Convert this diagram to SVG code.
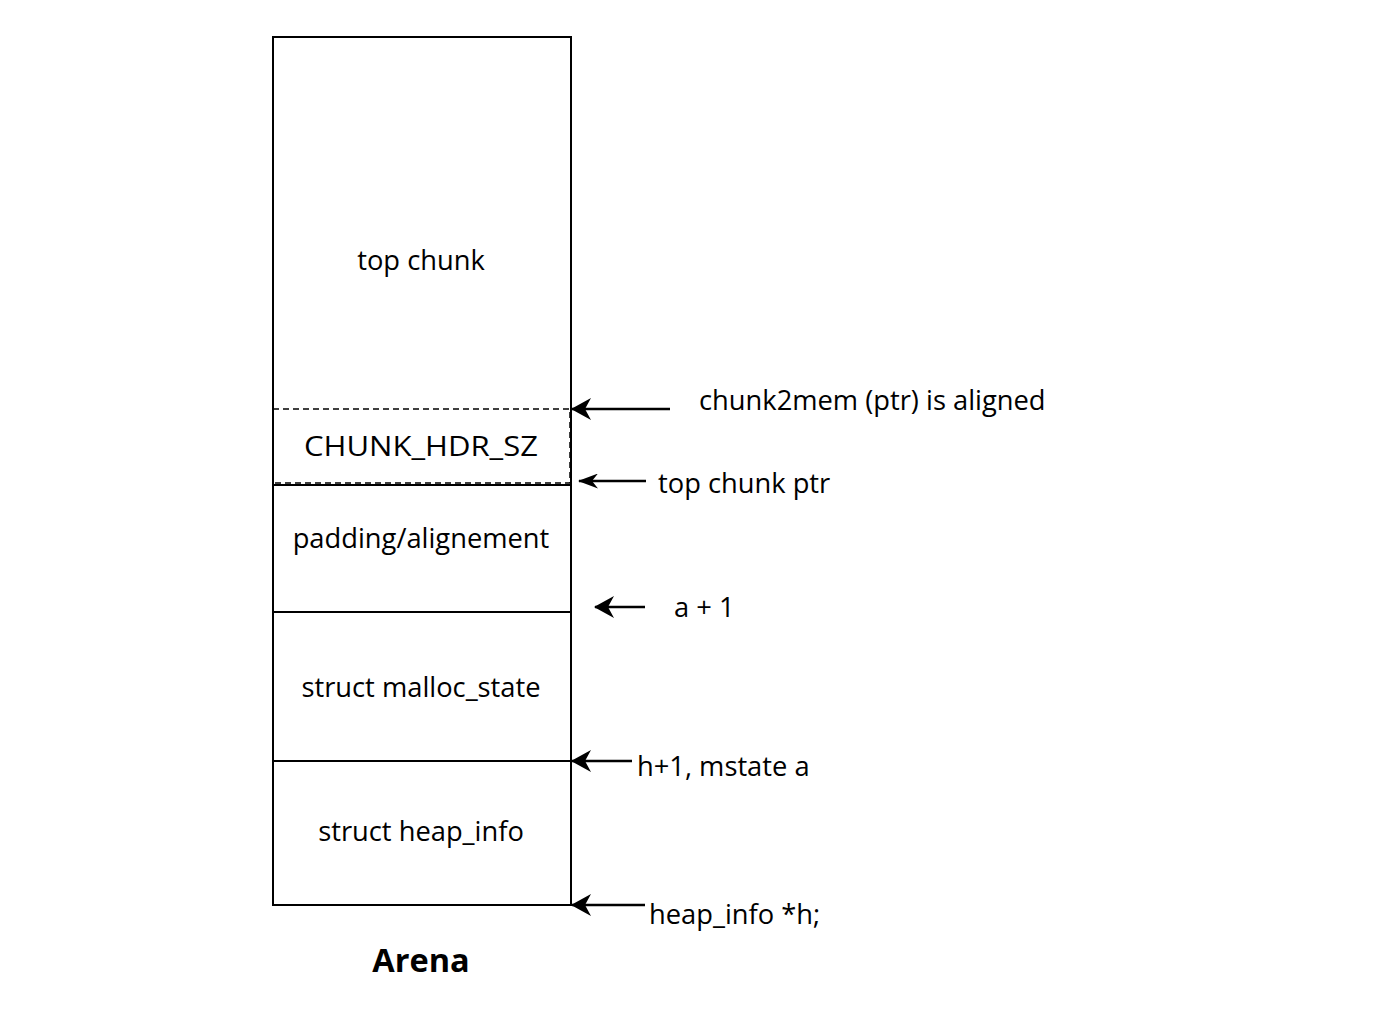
<svg xmlns="http://www.w3.org/2000/svg" width="1394" height="1032" viewBox="0 0 1394 1032">
<style>
text{font-family:"Open Sans","Noto Sans","DejaVu Sans",sans-serif;font-size:27.3px;fill:#000}
.c{text-anchor:middle}
.b{font-weight:bold;font-size:32.5px}
.box{fill:none;stroke:#000;stroke-width:2}
.dash{fill:none;stroke:#000;stroke-width:1.5;stroke-dasharray:6,4}
.arr{stroke:#000;stroke-width:2.5;fill:none;marker-end:url(#ah)}
.arr2{stroke:#000;stroke-width:2.5;fill:none;marker-end:url(#ah2)}
</style>
<defs>
<marker id="ah" viewBox="0 0 20 22" refX="19" refY="11" markerWidth="20" markerHeight="22" markerUnits="userSpaceOnUse" orient="auto">
<path d="M0,0 L20,11 L0,22 L6,11 Z" fill="#000"/>
</marker>
<marker id="ah2" viewBox="0 0 20 15" refX="19" refY="7.5" markerWidth="20" markerHeight="15" markerUnits="userSpaceOnUse" orient="auto">
<path d="M0,0 L20,7.5 L0,15 L6,7.5 Z" fill="#000"/>
</marker>
</defs>
<rect width="1394" height="1032" fill="#fff"/>
<g id="arena">
<rect class="box" x="273" y="37" width="298" height="868"/>
</g>
<g id="top-chunk"><text class="c" x="421" y="270">top chunk</text></g>
<g id="chunk-hdr">
<rect class="dash" x="273" y="409" width="297" height="74"/>
<text class="c" x="421" y="456" textLength="234" lengthAdjust="spacingAndGlyphs">CHUNK_HDR_SZ</text>
</g>
<g id="padding">
<line class="box" x1="273" y1="485" x2="571" y2="485"/>
<text class="c" x="421" y="548">padding/alignement</text>
</g>
<g id="malloc-state">
<line class="box" x1="273" y1="612" x2="571" y2="612"/>
<text class="c" x="421" y="697">struct malloc_state</text>
</g>
<g id="heap-info">
<line class="box" x1="273" y1="761" x2="571" y2="761"/>
<text class="c" x="421" y="841">struct heap_info</text>
</g>
<g id="title"><text class="c b" x="421" y="972">Arena</text></g>
<g id="connectors">
<line class="arr" x1="670" y1="409" x2="572" y2="409"/>
<line class="arr2" x1="646" y1="481" x2="579" y2="481"/>
<line class="arr" x1="645" y1="607" x2="595" y2="607"/>
<line class="arr" x1="632" y1="761" x2="572" y2="761"/>
<line class="arr" x1="645" y1="905" x2="572" y2="905"/>
</g>
<g id="labels">
<text x="699" y="410">chunk2mem (ptr) is aligned</text>
<text x="658" y="493">top chunk ptr</text>
<text x="674" y="617">a + 1</text>
<text x="637" y="776">h+1, mstate a</text>
<text x="649" y="924">heap_info *h;</text>
</g>
</svg>
